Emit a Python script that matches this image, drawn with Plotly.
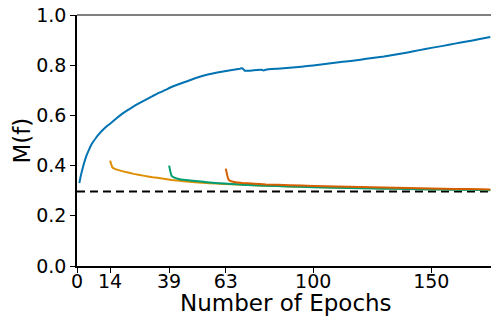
import plotly.graph_objects as go

blue_epochs = [1, 1.5, 2, 3, 4, 5, 6, 7, 8, 9, 10, 11, 12, 14, 16, 18, 20, 22, 24, 26, 28, 30, 32, 34, 36, 38, 40, 43, 46, 50, 55, 60, 65, 69, 70, 71, 73, 76, 78, 79, 80, 85, 90, 95, 100, 105, 110, 115, 120, 125, 130, 135, 140, 145, 150, 155, 160, 165, 170, 175]
blue_vals = [0.33, 0.355, 0.375, 0.41, 0.44, 0.462, 0.482, 0.497, 0.51, 0.522, 0.533, 0.543, 0.552, 0.567, 0.583, 0.598, 0.612, 0.624, 0.636, 0.647, 0.657, 0.667, 0.677, 0.687, 0.695, 0.704, 0.713, 0.724, 0.734, 0.748, 0.762, 0.772, 0.780, 0.786, 0.788, 0.778, 0.778, 0.781, 0.782, 0.779, 0.782, 0.786, 0.790, 0.794, 0.799, 0.805, 0.811, 0.816, 0.822, 0.829, 0.835, 0.843, 0.851, 0.860, 0.869, 0.877, 0.886, 0.894, 0.903, 0.912]

orange_epochs = [14, 15, 16, 18, 20, 24, 28, 32, 36, 40, 45, 50, 56, 62, 70, 80, 90, 100, 110, 120, 130, 140, 150, 160, 170, 175]
orange_vals = [0.42, 0.393, 0.387, 0.381, 0.376, 0.367, 0.360, 0.354, 0.349, 0.343, 0.338, 0.334, 0.330, 0.327, 0.324, 0.320, 0.317, 0.315, 0.313, 0.311, 0.310, 0.308, 0.306, 0.305, 0.304, 0.303]

green_epochs = [39, 40, 41, 43, 46, 50, 55, 60, 65, 70, 80, 90, 100, 110, 120, 130, 140, 150, 160, 170, 175]
green_vals = [0.40, 0.36, 0.353, 0.347, 0.343, 0.339, 0.334, 0.330, 0.327, 0.324, 0.320, 0.317, 0.314, 0.312, 0.310, 0.308, 0.307, 0.305, 0.304, 0.303, 0.302]

red_epochs = [63, 64, 65, 67, 70, 75, 80, 90, 100, 110, 120, 130, 140, 150, 160, 170, 175]
red_vals = [0.388, 0.348, 0.338, 0.334, 0.331, 0.328, 0.325, 0.322, 0.319, 0.317, 0.315, 0.313, 0.311, 0.309, 0.307, 0.306, 0.305]

baseline = 0.297
x_ticks = [0, 14, 39, 63, 100, 150]
y_ticks = [0.0, 0.2, 0.4, 0.6, 0.8, 1.0]
x_range = [0, 175.3]

fig = go.Figure()
fig.add_trace(go.Scatter(x=x_range, y=[baseline, baseline], mode="lines",
                         line=dict(color="black", width=2, dash="8px,5px"), showlegend=False))
for xs, ys, c in [(blue_epochs, blue_vals, "#0173b2"),
                  (orange_epochs, orange_vals, "#de8f05"),
                  (green_epochs, green_vals, "#029e73"),
                  (red_epochs, red_vals, "#d55e00")]:
    fig.add_trace(go.Scatter(x=xs, y=ys, mode="lines", line=dict(color=c, width=2, shape="spline", smoothing=0.3), showlegend=False))

font = "DejaVu Sans"
fig.update_layout(
    width=491, height=317,
    margin=dict(l=77, r=0, t=15, b=51),
    plot_bgcolor="white", paper_bgcolor="white",
    font=dict(family=font, color="black", size=19),
    xaxis=dict(range=x_range, tickvals=x_ticks, ticktext=[str(t) for t in x_ticks],
               automargin=False, ticklabelstandoff=-8,
               showgrid=False, zeroline=False, showline=True, linecolor="black", linewidth=1.5,
               ticks="outside", ticklen=5, tickwidth=1.3, tickcolor="black",
               tickfont=dict(size=19, family=font)),
    yaxis=dict(range=[0, 1], tickvals=y_ticks, ticktext=["%.1f" % t for t in y_ticks],
               automargin=False,
               showgrid=False, zeroline=False, showline=True, linecolor="black", linewidth=1.5,
               ticks="outside", ticklen=5, tickwidth=1.3, tickcolor="black",
               tickfont=dict(size=19, family=font)),
    shapes=[dict(type="line", xref="paper", yref="paper", x0=0, x1=1, y0=1, y1=1,
                 line=dict(color="#555555", width=1.5))],
    annotations=[
        dict(text="Number of Epochs", xref="paper", yref="paper", x=0.505, y=-0.147,
             xanchor="center", yanchor="middle", showarrow=False, font=dict(size=23, family=font)),
        dict(text="M(f)", xref="paper", yref="paper", x=-0.135, y=0.5, textangle=-90,
             xanchor="center", yanchor="middle", showarrow=False, font=dict(size=23, family=font)),
    ],
)
fig.write_html("out.html", config={"displayModeBar": False},
               post_script="document.body.style.margin='0';document.body.style.padding='0';")
